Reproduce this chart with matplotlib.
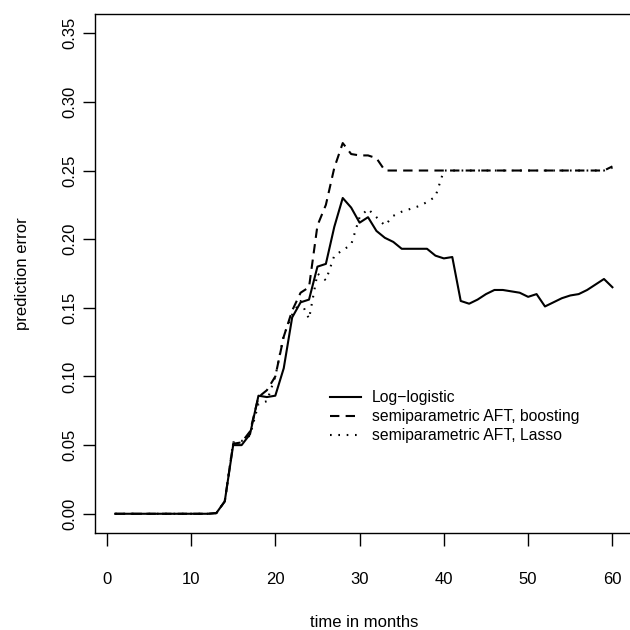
import matplotlib
matplotlib.use("Agg")
import matplotlib.pyplot as plt

plt.rcParams['font.family'] = ['Liberation Sans', 'DejaVu Sans']

months = list(range(1, 61))

log_logistic = [0.0, 0.0, 0.0, 0.0, 0.0, 0.0, 0.0, 0.0, 0.0, 0.0, 0.0, 0.0,
                0.0005, 0.009, 0.050, 0.050, 0.058, 0.086, 0.085, 0.086,
                0.106, 0.143, 0.154, 0.156, 0.180, 0.182, 0.209, 0.230, 0.223, 0.212,
                0.216, 0.206, 0.201, 0.198, 0.193, 0.193, 0.193, 0.193, 0.188, 0.186,
                0.187, 0.155, 0.153, 0.156, 0.160, 0.163, 0.163, 0.162, 0.161, 0.158,
                0.160, 0.151, 0.154, 0.157, 0.159, 0.160, 0.163, 0.167, 0.171, 0.165]

boosting = [0.0, 0.0, 0.0, 0.0, 0.0, 0.0, 0.0, 0.0, 0.0, 0.0, 0.0, 0.0,
            0.0005, 0.009, 0.051, 0.052, 0.060, 0.085, 0.090, 0.100,
            0.129, 0.148, 0.161, 0.165, 0.210, 0.225, 0.252, 0.270, 0.262, 0.261,
            0.261, 0.259, 0.250, 0.250, 0.250, 0.250, 0.250, 0.250, 0.250, 0.250,
            0.250, 0.250, 0.250, 0.250, 0.250, 0.250, 0.250, 0.250, 0.250, 0.250,
            0.250, 0.250, 0.250, 0.250, 0.250, 0.250, 0.250, 0.250, 0.250, 0.253]

lasso = [0.0, 0.0, 0.0, 0.0, 0.0, 0.0, 0.0, 0.0, 0.0, 0.0, 0.0, 0.0,
         0.0005, 0.009, 0.052, 0.053, 0.057, 0.080, 0.082, 0.100,
         0.130, 0.145, 0.155, 0.142, 0.175, 0.170, 0.188, 0.192, 0.196, 0.216,
         0.222, 0.216, 0.210, 0.217, 0.220, 0.222, 0.224, 0.227, 0.231, 0.250,
         0.250, 0.250, 0.250, 0.250, 0.250, 0.250, 0.250, 0.250, 0.250, 0.250,
         0.250, 0.250, 0.250, 0.250, 0.250, 0.250, 0.250, 0.250, 0.250, 0.252]

labels = ["Log\u2212logistic", "semiparametric AFT, boosting", "semiparametric AFT, Lasso"]
xticks = [0, 10, 20, 30, 40, 50, 60]
yticks = [0.00, 0.05, 0.10, 0.15, 0.20, 0.25, 0.30, 0.35]
ytick_labels = ["0.00", "0.05", "0.10", "0.15", "0.20", "0.25", "0.30", "0.35"]

fig = plt.figure(figsize=(6.3, 6.3), dpi=100)
ax = fig.add_axes([95.3 / 630, 97 / 630, 537 / 630, 519 / 630])

lw = 1.5
ax.plot(months, log_logistic, color='black', lw=lw, linestyle='-', label=labels[0])
ax.plot(months, boosting, color='black', lw=lw, linestyle=(0, (4.5, 3)), label=labels[1])
ax.plot(months, lasso, color='black', lw=lw, linestyle=(0, (0.8, 3.2)), label=labels[2])

ax.set_xlim(-1.36, 62.36)
ax.set_ylim(-0.014, 0.364)
ax.set_xticks(xticks)
ax.set_yticks(yticks)
ax.set_yticklabels(ytick_labels, rotation=90, va='center')

for s in ax.spines.values():
    s.set_linewidth(1.0)
ax.tick_params(axis='both', direction='out', length=9, width=1.0, labelsize=12, colors='black')
ax.tick_params(axis='x', pad=19)
ax.tick_params(axis='y', pad=4)

ax.set_xlabel("time in months", fontsize=12, labelpad=20)
ax.set_ylabel("prediction error", fontsize=12, labelpad=23)

leg = ax.legend(loc='upper left', bbox_to_anchor=(330 / 630, 1 - 390 / 630),
                bbox_transform=fig.transFigure, frameon=False, fontsize=11.3,
                handlelength=1.95, handletextpad=0.72, labelspacing=0.27,
                borderpad=0.0, borderaxespad=0.0)

fig.savefig("out.png", dpi=100)
